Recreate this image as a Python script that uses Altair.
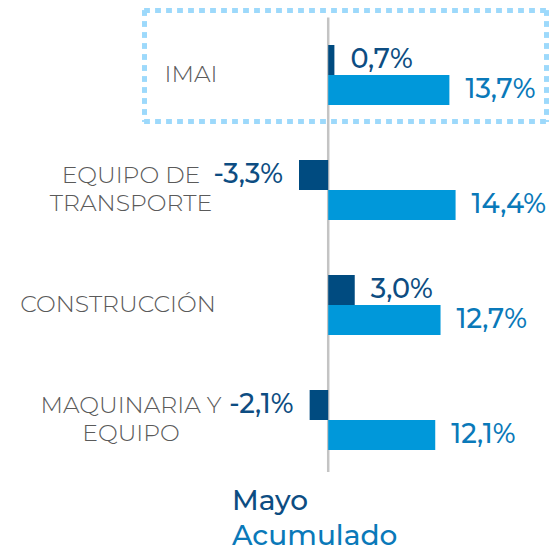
import altair as alt
import pandas as pd

categories = ["IMAI", "EQUIPO DE\nTRANSPORTE", "CONSTRUCCIÓN", "MAQUINARIA Y\nEQUIPO"]
series = ["Mayo", "Acumulado"]
mayo = [0.7, -3.3, 3.0, -2.1]
acumulado = [13.7, 14.4, 12.7, 12.1]

rows = []
for c, m, a in zip(categories, mayo, acumulado):
    for s, v in (("Mayo", m), ("Acumulado", a)):
        rows.append({"cat": c, "serie": s, "value": v,
                     "label": f"{v:.1f}".replace(".", ",") + "%"})
df = pd.DataFrame(rows)
cats_df = pd.DataFrame({"cat": categories})
series_df = pd.DataFrame({"serie": series})

FONT = "Montserrat, Inter, sans-serif"
DARK = "#004b80"
LIGHT = "#0098da"
DARK_T = "#0d4d82"
LIGHT_T = "#0a79b9"
GRAY = "#5a5a5a"

y_enc = alt.Y("cat:N", sort=categories, axis=None,
              scale=alt.Scale(paddingInner=0.478, paddingOuter=0.239))
x_scale = alt.Scale(domain=[-36.2, 25.3], nice=False, zero=False)
color_enc = alt.Color("serie:N", scale=alt.Scale(domain=series, range=[DARK, LIGHT]), legend=None)

base = alt.Chart(df)
layers = []

for s, off, tcol in (("Mayo", -15, DARK_T), ("Acumulado", 15, LIGHT_T)):
    sub = base.transform_filter(f"datum.serie == '{s}'")
    layers.append(sub.mark_bar(height=30, yOffset=off).encode(
        x=alt.X("value:Q", scale=x_scale, axis=None),
        x2=alt.datum(0),
        y=y_enc,
        color=color_enc,
    ))
    layers.append(sub.transform_filter("datum.value >= 0").mark_text(
        align="left", baseline="middle", dx=16, dy=off, font=FONT, fontSize=27,
        fontWeight=500, color=tcol
    ).encode(x=alt.X("value:Q", scale=x_scale, axis=None), y=y_enc, text="label:N"))
    layers.append(sub.transform_filter("datum.value < 0").mark_text(
        align="right", baseline="middle", dx=-16, dy=off, font=FONT, fontSize=27,
        fontWeight=500, color=tcol
    ).encode(x=alt.X("value:Q", scale=x_scale, axis=None), y=y_enc, text="label:N"))

zero_rule = alt.Chart(pd.DataFrame({"z": [0]})).mark_rule(color="#c4c4c4", strokeWidth=2.5).encode(
    x=alt.X("z:Q", scale=x_scale, axis=None), y=alt.value(0), y2=alt.value(454.5)
)

BOX = dict(color="#9dd9fb", strokeWidth=5, strokeDash=[5, 6])
box_top = alt.Chart(cats_df).mark_rule(**BOX).encode(
    x=alt.value(136.5), x2=alt.value(538.5), y=alt.value(-7))
box_bot = alt.Chart(cats_df).mark_rule(**BOX).encode(
    x=alt.value(136.5), x2=alt.value(538.5), y=alt.value(104))
box_left = alt.Chart(cats_df).mark_rule(**BOX).encode(
    x=alt.value(136.5), y=alt.value(-7), y2=alt.value(104))
box_right = alt.Chart(cats_df).mark_rule(**BOX).encode(
    x=alt.value(538.5), y=alt.value(-7), y2=alt.value(104))

CAT = dict(align="center", baseline="middle", font=FONT, fontSize=23.5, fontWeight=300,
           color=GRAY, lineBreak="\n", lineHeight=28)

cat_imai = alt.Chart(cats_df).transform_filter("datum.cat == 'IMAI'").mark_text(**CAT).encode(
    y=y_enc, x=alt.value(183), text="cat:N")

cat_single = alt.Chart(cats_df).transform_filter(
    "datum.cat != 'IMAI' && indexof(datum.cat, '\\n') < 0").mark_text(**CAT).encode(
    y=y_enc, x=alt.value(110), text="cat:N")

cat_multi = alt.Chart(cats_df).transform_filter(
    "indexof(datum.cat, '\\n') >= 0").mark_text(dy=-14, **CAT).encode(
    y=y_enc, x=alt.value(123), text="cat:N")

leg_mayo = alt.Chart(series_df).transform_filter("datum.serie == 'Mayo'").mark_text(
    align="left", baseline="alphabetic", font=FONT, fontSize=28, fontWeight=500, color=DARK_T
).encode(x=alt.value(224), y=alt.value(492.5), text="serie:N")

leg_acu = alt.Chart(series_df).transform_filter("datum.serie == 'Acumulado'").mark_text(
    align="left", baseline="alphabetic", font=FONT, fontSize=28, fontWeight=500, color=LIGHT_T
).encode(x=alt.value(224), y=alt.value(527), text="serie:N")

chart = alt.layer(
    box_top, box_bot, box_left, box_right, zero_rule, *layers,
    cat_imai, cat_single, cat_multi, leg_mayo, leg_acu
).properties(
    width=544, height=460,
    padding={"left": 0, "right": 0, "top": 9.5, "bottom": 72.5},
    autosize=alt.AutoSizeParams(type="none"),
).configure_view(stroke=None)

chart.save("out.html", embed_options={"renderer": "svg", "actions": False})
